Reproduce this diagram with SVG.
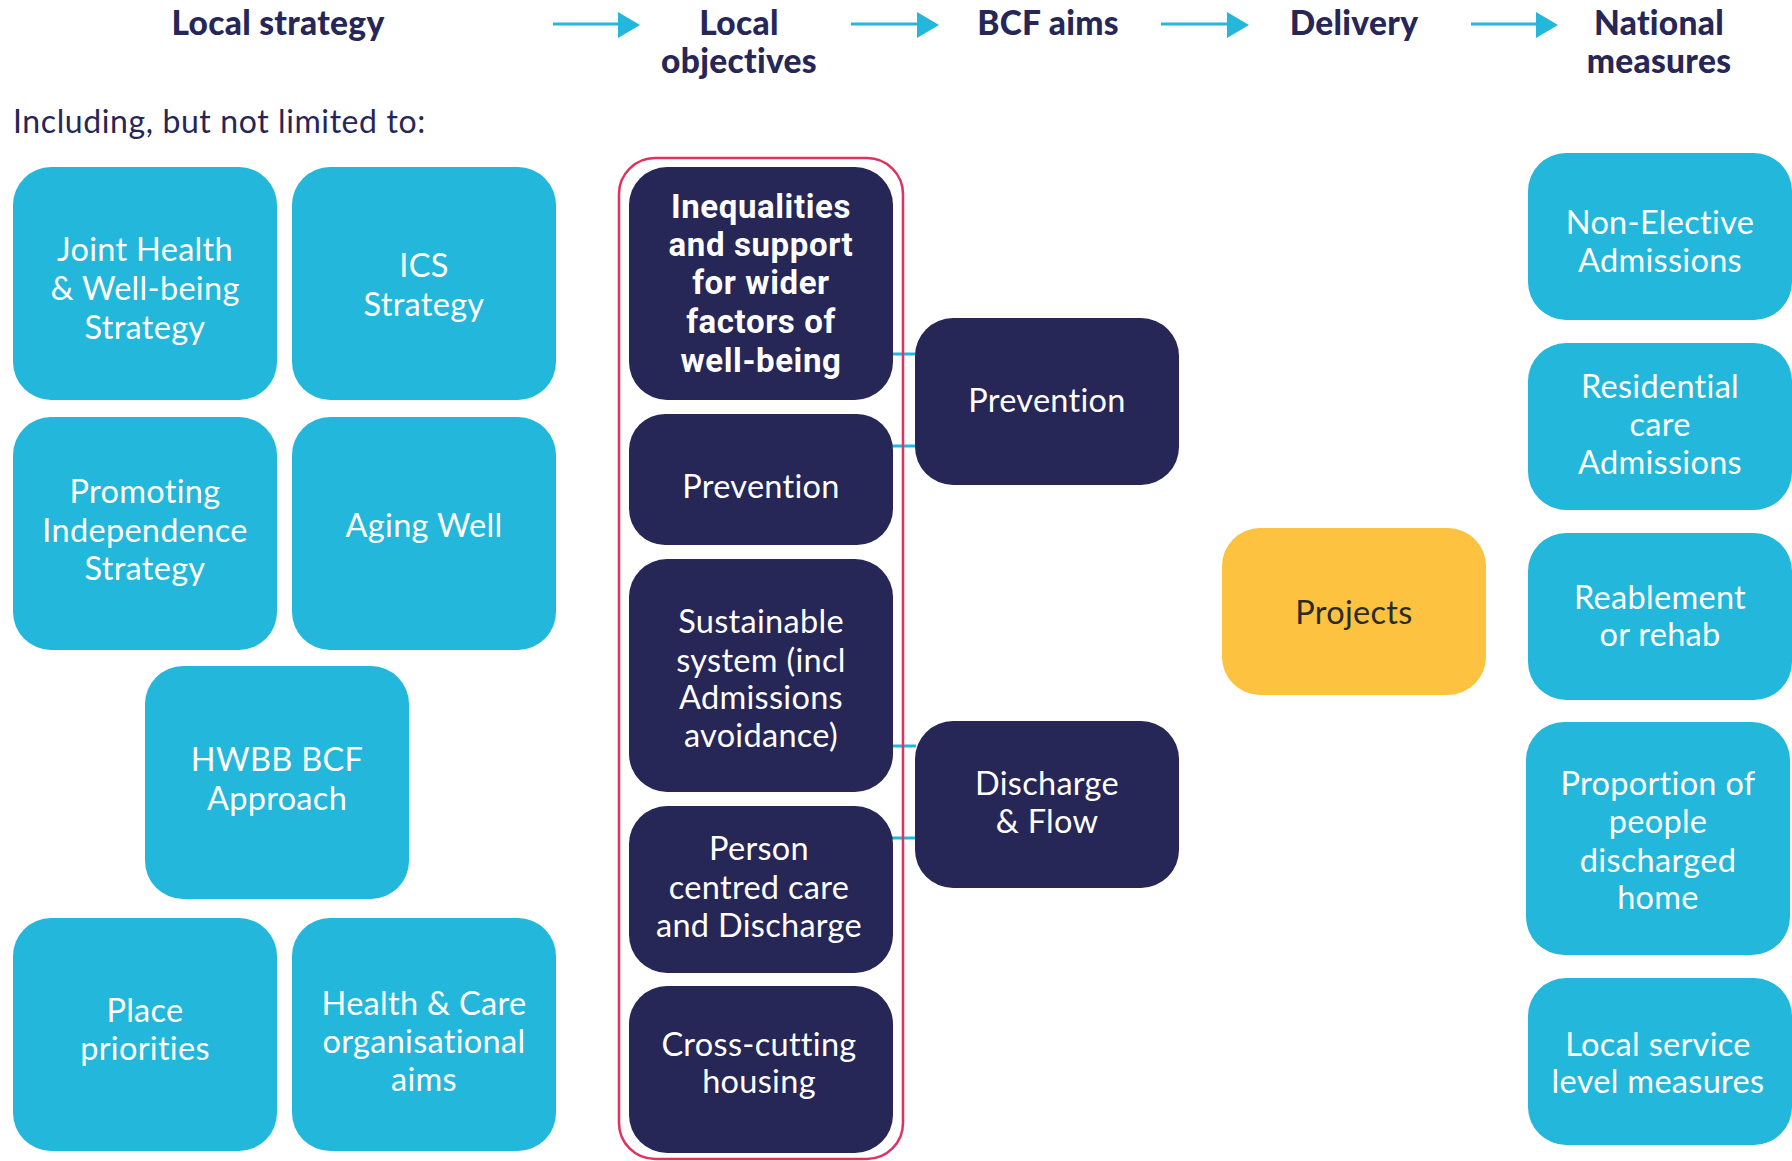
<svg xmlns="http://www.w3.org/2000/svg" width="1792" height="1161" viewBox="0 0 1792 1161">
<defs>
<style>
.cy{fill:#23b7db}
.nv{fill:#262657}
.yl{fill:#fcc240}
.t{font-family:Lato,"Noto Sans",sans-serif;font-size:32.5px;letter-spacing:0.3px;fill:#ffffff;text-anchor:middle}
.tb{font-family:Roboto,"Noto Sans",sans-serif;font-weight:700;font-size:33px;letter-spacing:0.6px;fill:#ffffff;text-anchor:middle}
.h{font-family:Lato,"Noto Sans",sans-serif;font-weight:900;font-size:33.5px;letter-spacing:0.3px;fill:#262657;text-anchor:middle}
.sub{font-family:Lato,"Noto Sans",sans-serif;font-size:32px;letter-spacing:0.6px;fill:#262657}
.dk{fill:#2b2b2b}
.con{stroke:#23b7db;stroke-width:3;fill:none}
</style>
</defs>
<rect width="1792" height="1161" fill="#ffffff"/>

<g id="headings">
<text class="h" x="278" y="35">Local strategy</text>
<text class="h" x="739" y="35">Local</text>
<text class="h" x="739" y="73">objectives</text>
<text class="h" x="1048" y="35">BCF aims</text>
<text class="h" x="1354" y="35">Delivery</text>
<text class="h" x="1659" y="35">National</text>
<text class="h" x="1659" y="73">measures</text>
<text class="sub" x="13" y="133">Including, but not limited to:</text>
</g>

<g id="connectors">
<g fill="#23b7db">
<line class="con" x1="553" y1="24" x2="619" y2="24"/><path d="M618,12 L640,25 L618,38 Z"/>
<line class="con" x1="851" y1="24" x2="918" y2="24"/><path d="M917,12 L939,25 L917,38 Z"/>
<line class="con" x1="1161" y1="24" x2="1228" y2="24"/><path d="M1227,12 L1249,25 L1227,38 Z"/>
<line class="con" x1="1471" y1="24" x2="1537" y2="24"/><path d="M1536,12 L1558,25 L1536,38 Z"/>
</g>
<line class="con" x1="892" y1="354" x2="916" y2="354"/>
<line class="con" x1="892" y1="446" x2="916" y2="446"/>
<line class="con" x1="892" y1="746" x2="916" y2="746"/>
<line class="con" x1="892" y1="838" x2="916" y2="838"/>
</g>

<g id="local-strategy">
<g id="n-joint"><rect class="cy" x="13" y="167" width="264" height="233" rx="38"/>
<text class="t" x="145" y="261">Joint Health</text><text class="t" x="145" y="300">&amp; Well-being</text><text class="t" x="145" y="339">Strategy</text></g>
<g id="n-ics"><rect class="cy" x="292" y="167" width="264" height="233" rx="38"/>
<text class="t" x="424" y="277">ICS</text><text class="t" x="424" y="316">Strategy</text></g>
<g id="n-promoting"><rect class="cy" x="13" y="417" width="264" height="233" rx="38"/>
<text class="t" x="145" y="503">Promoting</text><text class="t" x="145" y="542">Independence</text><text class="t" x="145" y="580">Strategy</text></g>
<g id="n-aging"><rect class="cy" x="292" y="417" width="264" height="233" rx="38"/>
<text class="t" x="424" y="537">Aging Well</text></g>
<g id="n-hwbb"><rect class="cy" x="145" y="666" width="264" height="233" rx="38"/>
<text class="t" x="277" y="771">HWBB BCF</text><text class="t" x="277" y="810">Approach</text></g>
<g id="n-place"><rect class="cy" x="13" y="918" width="264" height="233" rx="38"/>
<text class="t" x="145" y="1022">Place</text><text class="t" x="145" y="1060">priorities</text></g>
<g id="n-healthcare"><rect class="cy" x="292" y="918" width="264" height="233" rx="38"/>
<text class="t" x="424" y="1015">Health &amp; Care</text><text class="t" x="424" y="1053">organisational</text><text class="t" x="424" y="1091">aims</text></g>
</g>

<g id="local-objectives">
<rect id="objectives-frame" x="619" y="158" width="284" height="1001" rx="36" fill="none" stroke="#e0325e" stroke-width="2.5"/>
<g id="n-inequalities"><rect class="nv" x="629" y="167" width="264" height="233" rx="38"/>
<text class="tb" x="761" y="218">Inequalities</text><text class="tb" x="761" y="256">and support</text><text class="tb" x="761" y="294">for wider</text><text class="tb" x="761" y="333">factors of</text><text class="tb" x="761" y="372">well-being</text></g>
<g id="n-prevention-obj"><rect class="nv" x="629" y="414" width="264" height="131" rx="36"/>
<text class="t" x="761" y="498">Prevention</text></g>
<g id="n-sustainable"><rect class="nv" x="629" y="559" width="264" height="233" rx="38"/>
<text class="t" x="761" y="633">Sustainable</text><text class="t" x="761" y="672">system (incl</text><text class="t" x="761" y="709">Admissions</text><text class="t" x="761" y="747">avoidance)</text></g>
<g id="n-person"><rect class="nv" x="629" y="806" width="264" height="167" rx="38"/>
<text class="t" x="759" y="860">Person</text><text class="t" x="759" y="899">centred care</text><text class="t" x="759" y="937">and Discharge</text></g>
<g id="n-cross"><rect class="nv" x="629" y="986" width="264" height="167" rx="38"/>
<text class="t" x="759" y="1056">Cross-cutting</text><text class="t" x="759" y="1093">housing</text></g>
</g>

<g id="bcf-aims">
<g id="n-prevention-aim"><rect class="nv" x="915" y="318" width="264" height="167" rx="38"/>
<text class="t" x="1047" y="412">Prevention</text></g>
<g id="n-discharge"><rect class="nv" x="915" y="721" width="264" height="167" rx="38"/>
<text class="t" x="1047" y="795">Discharge</text><text class="t" x="1047" y="833">&amp; Flow</text></g>
</g>

<g id="delivery">
<g id="n-projects"><rect class="yl" x="1222" y="528" width="264" height="167" rx="38"/>
<text class="t dk" x="1354" y="624">Projects</text></g>
</g>

<g id="national-measures">
<g id="n-nonelective"><rect class="cy" x="1528" y="153" width="264" height="167" rx="38"/>
<text class="t" x="1660" y="234">Non-Elective</text><text class="t" x="1660" y="272">Admissions</text></g>
<g id="n-residential"><rect class="cy" x="1528" y="343" width="264" height="167" rx="38"/>
<text class="t" x="1660" y="398">Residential</text><text class="t" x="1660" y="436">care</text><text class="t" x="1660" y="474">Admissions</text></g>
<g id="n-reablement"><rect class="cy" x="1528" y="533" width="264" height="167" rx="38"/>
<text class="t" x="1660" y="609">Reablement</text><text class="t" x="1660" y="646">or rehab</text></g>
<g id="n-proportion"><rect class="cy" x="1526" y="722" width="264" height="233" rx="38"/>
<text class="t" x="1658" y="795">Proportion of</text><text class="t" x="1658" y="833">people</text><text class="t" x="1658" y="872">discharged</text><text class="t" x="1658" y="909">home</text></g>
<g id="n-localservice"><rect class="cy" x="1528" y="978" width="264" height="167" rx="38"/>
<text class="t" x="1658" y="1056">Local service</text><text class="t" x="1658" y="1093">level measures</text></g>
</g>
</svg>
